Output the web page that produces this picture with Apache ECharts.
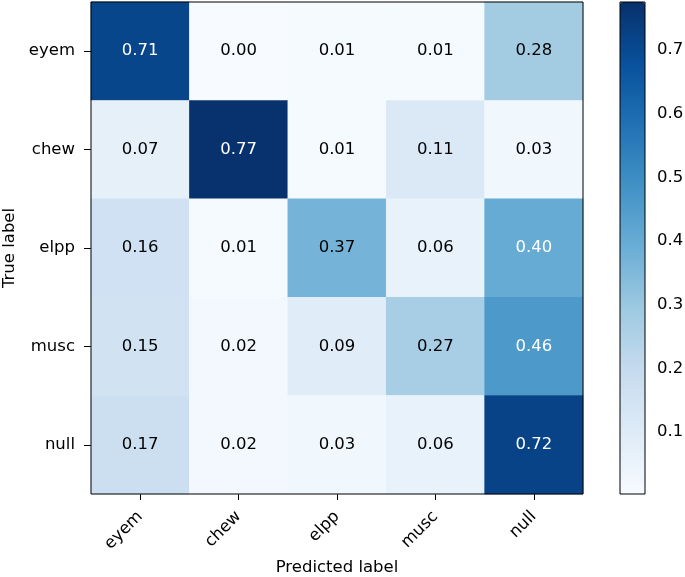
<!DOCTYPE html>
<html>
<head>
<meta charset="utf-8">
<script src="https://cdn.jsdelivr.net/npm/echarts@6/dist/echarts.min.js"></script>
<style>
html, body { margin: 0; padding: 0; background: #fff; }
#chart { width: 685px; height: 577px; }
</style>
</head>
<body>
<div id="chart"></div>
<script>
// confusion matrix, rows = true label, cols = predicted label
var classNames = ["eyem", "chew", "elpp", "musc", "null"];
var rowEyem = [0.71, 0.00, 0.01, 0.01, 0.28];
var rowChew = [0.07, 0.77, 0.01, 0.11, 0.03];
var rowElpp = [0.16, 0.01, 0.37, 0.06, 0.40];
var rowMusc = [0.15, 0.02, 0.09, 0.27, 0.46];
var rowNull = [0.17, 0.02, 0.03, 0.06, 0.72];
var colorbarTicks = [0.1, 0.2, 0.3, 0.4, 0.5, 0.6, 0.7];
var vmin = 0.003, vmax = 0.775;

var blues = ["#f7fbff", "#deebf7", "#c6dbef", "#9ecae1", "#6baed6", "#4292c6", "#2171b5", "#08519c", "#08306b"];
var font = "DejaVu Sans";
var fs = 16.5;

var rows = [rowEyem, rowChew, rowElpp, rowMusc, rowNull];
var thresh = 0.77 / 2;
var cells = [];
rows.forEach(function (row, i) {
	row.forEach(function (v, j) {
		cells.push({
			value: [j, i, v],
			label: { color: v > thresh ? "#ffffff" : "#000000" }
		});
	});
});

var myChart = echarts.init(document.getElementById("chart"));
var option = {
	animation: false,
	textStyle: { fontFamily: font },
	grid: [
		{ left: 91, top: 2, width: 492, height: 492, outerBoundsMode: "none", containLabel: false, show: true, borderColor: "#000", borderWidth: 1, backgroundColor: "transparent", z: 5 },
		{ left: 620, top: 2, width: 25, height: 492, outerBoundsMode: "none", containLabel: false, show: true, borderColor: "#000", borderWidth: 1, backgroundColor: "transparent", z: 5 }
	],
	xAxis: [{
		gridIndex: 0,
		type: "category",
		data: classNames,
		name: "Predicted label",
		nameLocation: "middle",
		nameGap: 64,
		nameTextStyle: { fontSize: fs, color: "#000", fontFamily: font },
		axisLine: { show: false },
		axisTick: { show: true, alignWithLabel: true, length: 6, lineStyle: { color: "#000" } },
		axisLabel: { rotate: 45, interval: 0, fontSize: fs, color: "#000", margin: 20, fontFamily: font },
		splitLine: { show: false }
	}, {
		gridIndex: 1,
		type: "value",
		show: false,
		min: 0,
		max: 1
	}],
	yAxis: [{
		gridIndex: 0,
		type: "category",
		data: classNames,
		inverse: true,
		name: "True label",
		nameLocation: "middle",
		nameGap: 70,
		nameRotate: 90,
		nameTextStyle: { fontSize: fs, color: "#000", fontFamily: font },
		axisLine: { show: false },
		axisTick: { show: true, alignWithLabel: true, length: 7, lineStyle: { color: "#000" } },
		axisLabel: { fontSize: fs, color: "#000", margin: 16, fontFamily: font },
		splitLine: { show: false }
	}, {
		gridIndex: 1,
		type: "value",
		position: "right",
		min: vmin,
		max: vmax,
		axisLine: { show: false },
		axisTick: { show: true, length: 7, lineStyle: { color: "#000" }, customValues: colorbarTicks },
		axisLabel: {
			fontSize: fs, color: "#000", margin: 12, fontFamily: font,
			customValues: colorbarTicks,
			formatter: function (v) { return v.toFixed(1); }
		},
		splitLine: { show: false }
	}],
	visualMap: {
		type: "continuous",
		seriesIndex: 0,
		min: vmin,
		max: vmax,
		calculable: false,
		text: null,
		showLabel: false,
		left: 620,
		top: 2,
		padding: 0,
		itemWidth: 25,
		itemHeight: 492,
		inRange: { color: blues }
	},
	series: [{
		type: "heatmap",
		xAxisIndex: 0,
		yAxisIndex: 0,
		data: cells,
		label: {
			show: true,
			fontSize: fs,
			fontFamily: font,
			formatter: function (p) { return p.value[2].toFixed(2); }
		},
		emphasis: { disabled: true }
	}]
};
myChart.setOption(option);
</script>
</body>
</html>
